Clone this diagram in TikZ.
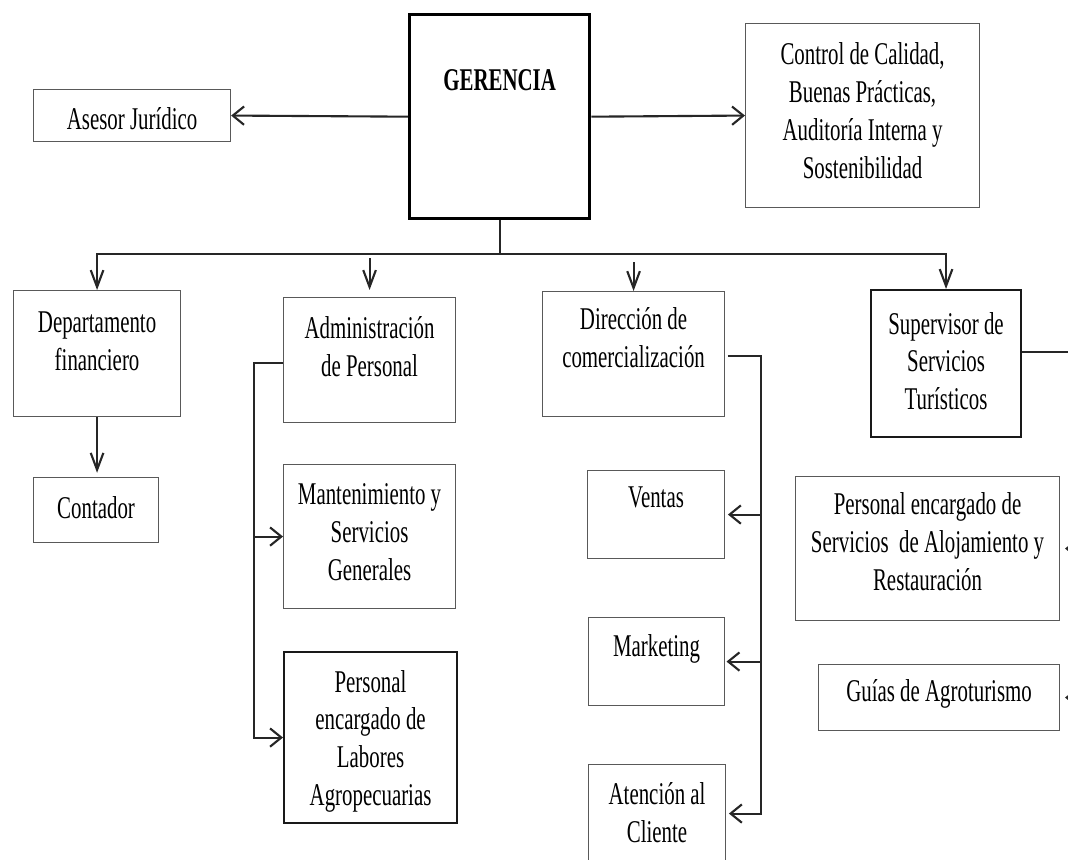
\documentclass[tikz,border=0pt]{standalone}
\usepackage{fontspec}
\setmainfont{Liberation Serif}[FakeStretch=0.66]
\usetikzlibrary{arrows.meta}
\newdimen\px
\px=0.025cm
\newcommand{\boxtext}[4]{%
   % width, height, gap above the first line, text
   \parbox[c][#2\px][t]{#1\px}{\centering\vspace*{#3\px}#4}}
\tikzset{
   harr/.tip={Straight Barb[length=8pt,width=13pt]},
   varr/.tip={Straight Barb[length=12pt,width=9pt]}
}

\begin{document}
\begin{tikzpicture}[x=0.025cm, y=-0.025cm,
   box/.style={draw=black!65, line width=0.8pt, inner sep=0pt,
      anchor=north west, fill=white,
      font=\fontsize{22.5}{27}\selectfont},
   thickbox/.style={box, draw=black!90, line width=1.5pt},
   link/.style={line width=1.5pt, black!85}]

   \useasboundingbox (0,0) rectangle (1068,860);
   \fill[white] (0,0) rectangle (1068,860);
   \clip (0,0) rectangle (1068,860);

   % top level
   \node[box, draw=black, line width=2.4pt] (ger) at (408,13)
      {\boxtext{180}{204}{55}{\textbf{GERENCIA}}};
   \node[box] (ase) at (33,89) {\boxtext{197}{52}{18}{Asesor Jurídico}};
   \node[box] (ctl) at (745,23)
      {\boxtext{234}{184}{19}{Control de Calidad,\\Buenas Prácticas,\\Auditoría Interna y\\Sostenibilidad}};

   % second level
   \node[box] (dep) at (13,290) {\boxtext{167}{126}{21}{Departamento\\financiero}};
   \node[box] (adm) at (283,297) {\boxtext{172}{125}{19}{Administración\\de Personal}};
   \node[box] (dir) at (542,291) {\boxtext{182}{125}{16}{Dirección de\\comercialización}};
   \node[thickbox] (sup) at (870,289) {\boxtext{150}{147}{22}{Supervisor de\\Servicios\\Turísticos}};

   % third level
   \node[box] (cont) at (33,477) {\boxtext{125}{65}{19}{Contador}};
   \node[box] (man) at (283,464) {\boxtext{172}{144}{19}{Mantenimiento y\\Servicios\\Generales}};
   \node[thickbox] (lab) at (283,651)
      {\boxtext{173}{171}{18}{Personal\\encargado de\\Labores\\Agropecuarias}};
   \node[box] (ven) at (587,470) {\boxtext{137}{88}{16}{Ventas}};
   \node[box] (mkt) at (588,617) {\boxtext{136}{88}{17}{Marketing}};
   \node[box] (ate) at (588,764) {\boxtext{137}{98}{18}{Atención al\\Cliente}};
   \node[box] (alo) at (795,476)
      {\boxtext{264}{144}{16}{Personal encargado de\\Servicios\ \ de Alojamiento y\\Restauración}};
   \node[box] (gui) at (818,664) {\boxtext{241}{66}{15}{Guías de Agroturismo}};

   \coordinate (bus) at (498,254);
   \coordinate (admL) at (254,363);
   \coordinate (dirR) at (761,356);
   \coordinate (supR) at (1090,352);

   \draw[link, -harr] (ger.west) -- (ase.east);
   \draw[link, -harr] (ger.east) -- (ctl.west);
   \draw[link] (ger.south) -- (ger.south |- bus);
   \draw[link, varr-varr] (dep.north) |- (bus) -| (sup.north);
   \draw[link, -varr, shorten <=3pt, shorten >=5pt] (adm.north |- bus) -- (adm.north);
   \draw[link, -varr, shorten <=6pt] (dir.north |- bus) -- (dir.north);
   \draw[link, -varr, shorten >=3pt] (dep.south) -- (dep.south |- cont.north);

   \draw[link, -harr] (admL -| adm.west) -- (admL) |- (lab.west);
   \draw[link, -harr] (admL |- man.west) -- (man.west);

   \draw[link, -harr, shorten >=2pt] ([xshift=2pt]dirR -| dir.east) -- (dirR) |- (ate.east);
   \draw[link, -harr, shorten >=2pt] (dirR |- ven.east) -- (ven.east);
   \draw[link, -harr, shorten >=1pt] (dirR |- mkt.east) -- (mkt.east);

   \draw[link, -harr, shorten >=3.5pt] (supR -| sup.east) -- (supR) |- (alo.east);
   \draw[link, -harr, shorten >=3.5pt] (supR |- gui.east) -- (gui.east);

\end{tikzpicture}
\end{document}
